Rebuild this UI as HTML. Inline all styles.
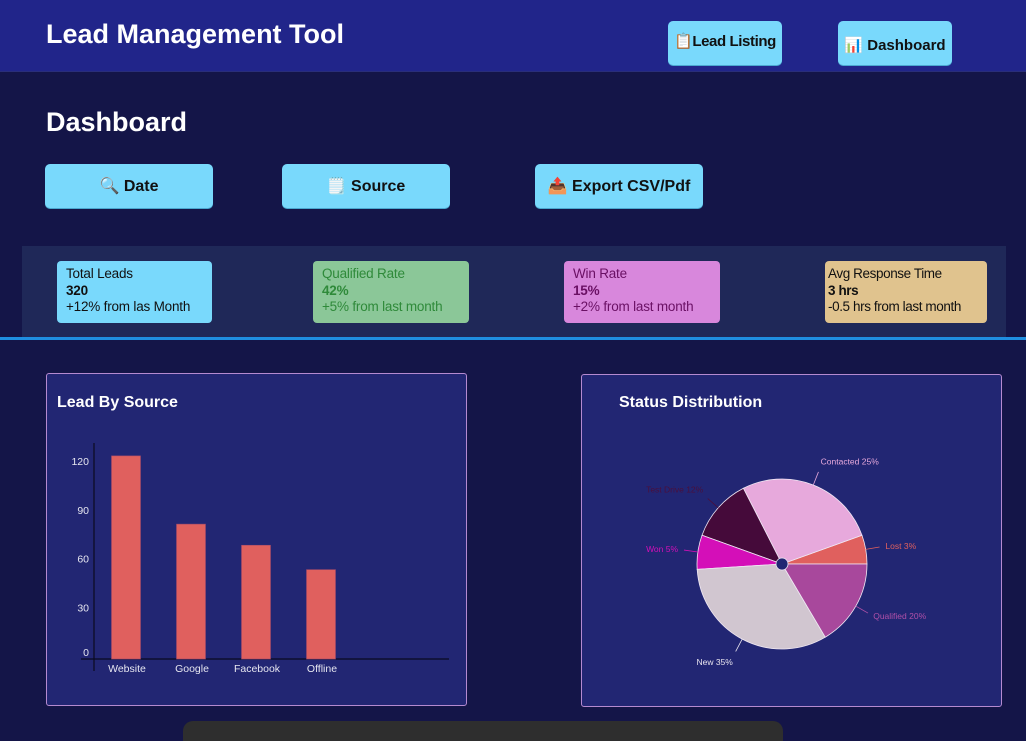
<!DOCTYPE html>
<html><head><meta charset="utf-8"><style>
*{box-sizing:border-box;margin:0;padding:0}
body{width:1026px;height:727px;overflow:hidden;background:#141548;font-family:"Liberation Sans",sans-serif;position:relative}
.abs{position:absolute}
.hdr{left:0;top:0;width:1026px;height:72px;background:#21258a;border-bottom:1px solid #2a2e7a}
.btn{background:#79d9fc;border-radius:5px;color:#111;font-weight:bold;font-size:16px;display:flex;align-items:center;justify-content:center;border:none;box-shadow:0 1px 0 #4aa8d0;white-space:nowrap;font-family:"Liberation Sans",sans-serif}
.card{border-radius:4px;padding:5px 9px;font-size:13.5px;line-height:16.5px;white-space:nowrap;letter-spacing:-0.2px}
.panel{background:#222673;border:1px solid #b58ad0;border-radius:3px}
</style></head><body>
<div class="abs hdr"></div>
<div class="abs" style="left:46px;top:19px;color:#fff;font-size:27px;font-weight:bold">Lead Management Tool</div>
<button class="abs btn" style="left:668px;top:21px;width:114px;height:44px;font-size:15px;letter-spacing:-0.4px;padding-bottom:4px">📋Lead Listing</button>
<button class="abs btn" style="left:838px;top:21px;width:114px;height:44px;font-size:15px;padding-top:4px">📊 Dashboard</button>
<div class="abs" style="left:46px;top:107px;color:#fff;font-size:27px;font-weight:bold">Dashboard</div>
<button class="abs btn" style="left:45px;top:164px;width:168px;height:44px">🔍 Date</button>
<button class="abs btn" style="left:282px;top:164px;width:168px;height:44px">🗒️ Source</button>
<button class="abs btn" style="left:535px;top:164px;width:168px;height:44px">📤 Export CSV/Pdf</button>
<div class="abs" style="left:22px;top:246px;width:984px;height:91px;background:#1f2858"></div>
<div class="abs" style="left:0;top:337px;width:1026px;height:3px;background:#1f8ee0"></div>
<div class="abs card" style="left:57px;top:261px;width:155px;height:62px;background:#79d9fc;color:#111">Total Leads<br><b>320</b><br>+12% from las Month</div>
<div class="abs card" style="left:313px;top:261px;width:156px;height:62px;background:#8bc798;color:#2f8a3a">Qualified Rate<br><b>42%</b><br>+5% from last month</div>
<div class="abs card" style="left:564px;top:261px;width:156px;height:62px;background:#d887dc;color:#6a1064">Win Rate<br><b>15%</b><br>+2% from last month</div>
<div class="abs card" style="left:825px;top:261px;width:162px;height:62px;background:#e0c38e;color:#111;padding-left:3px;letter-spacing:-0.4px">Avg Response Time<br><b>3 hrs</b><br>-0.5 hrs from last month</div>

<div class="abs panel" style="left:46px;top:373px;width:421px;height:333px"></div>
<div class="abs" style="left:57px;top:394px;color:#fff;font-size:16px;font-weight:bold">Lead By Source</div>
<div class="abs panel" style="left:581px;top:374px;width:421px;height:333px"></div>
<div class="abs" style="left:619px;top:394px;color:#fff;font-size:16px;font-weight:bold">Status Distribution</div>
<div class="abs" style="left:183px;top:721px;width:600px;height:20px;background:#2e2e2e;border-radius:10px 10px 0 0"></div>

<svg class="abs" style="left:0;top:0" width="1026" height="727" id="charts"></svg>
<script>
const barCategories=["Website","Google","Facebook","Offline"];
const barValues=[125,83,70,55];
const yTicks=[0,30,60,90,120];
const pieLabels=["Lost","Contacted","Test Drive","Won","New","Qualified"];
const pieValues=[5.5,27,12,6.5,32.5,16.5];
const pieLabelPct=[3,25,12,5,35,20];
const pieColors=["#e0605e","#e7a9dc","#450a3a","#d40fb8","#d1c6d0","#a8489c"];
const pieLabelColors=["#e0605e","#e7a9dc","#4a0f3c","#d40fb8","#e8e4ee","#b050a8"];

const NS="http://www.w3.org/2000/svg";
const svg=document.getElementById('charts');
function mk(t,a,txt){const e=document.createElementNS(NS,t);for(const k in a)e.setAttribute(k,a[k]);if(txt!==undefined)e.textContent=txt;svg.appendChild(e);return e;}
const y0=659,ppu=1.625;
function yS(v){return y0-v*ppu;}
function xS(i){return 126+i*65;}
let ax=mk('line',{x1:94,y1:443,x2:94,y2:671,stroke:'#0a0a20','stroke-width':1.2});


let bx=mk('line',{x1:81,y1:659,x2:449,y2:659,stroke:'#0a0a20','stroke-width':1.2});


yTicks.forEach(v=>{
  const t=mk('text',{x:93-4,y:v===0?656:yS(v)+1,'text-anchor':'end','font-size':10.5,fill:'#e6e6f0'},String(v));
  
  
});
barCategories.forEach((c,i)=>{
  const r=mk('rect',{x:xS(i)-14.5,y:yS(barValues[i]),width:29,height:barValues[i]*ppu,fill:'#e0605e',stroke:'#a04a6a','stroke-width':0.6});
  
  
  const t=mk('text',{x:xS(i)+1,y:672,'text-anchor':'middle','font-size':10.5,fill:'#e6e6f0'},c);
  
  
});
const cx=782,cy=564,R=85;
const total=pieValues.reduce((a,b)=>a+b,0);
let ang=0;
pieValues.forEach((v,i)=>{
  const a0=ang,a1=ang+v/total*2*Math.PI;ang=a1;
  const p=(a)=>[cx+R*Math.cos(a),cy-R*Math.sin(a)];
  const [x0,yy0]=p(a0),[x1,yy1]=p(a1);
  const large=(a1-a0)>Math.PI?1:0;
  const s=mk('path',{d:`M${cx},${cy}L${x0},${yy0}A${R},${R} 0 ${large} 0 ${x1},${yy1}Z`,fill:pieColors[i],stroke:'#f0e8f4','stroke-width':0.8});
  
  
  const m=(a0+a1)/2,c=Math.cos(m),sn=Math.sin(m);
  const l=mk('line',{x1:cx+R*c,y1:cy-R*sn,x2:cx+(R+14)*c,y2:cy-(R+14)*sn,stroke:pieLabelColors[i],'stroke-width':0.8});
  
  
  const lx=cx+(R+20)*c,ly=cy-(R+20)*sn;
  const t=mk('text',{x:lx,y:ly+(sn>0.5?-2:sn<-0.5?8:3),'text-anchor':c>0.3?'start':c<-0.3?'end':'middle','font-size':8.5,fill:pieLabelColors[i]},pieLabels[i]+' '+pieLabelPct[i]+'%');
  
  
});
const h=mk('circle',{cx:cx,cy:cy,r:6,fill:'#222673',stroke:'#f0e8f4','stroke-width':0.8});


</script>
</body></html>
